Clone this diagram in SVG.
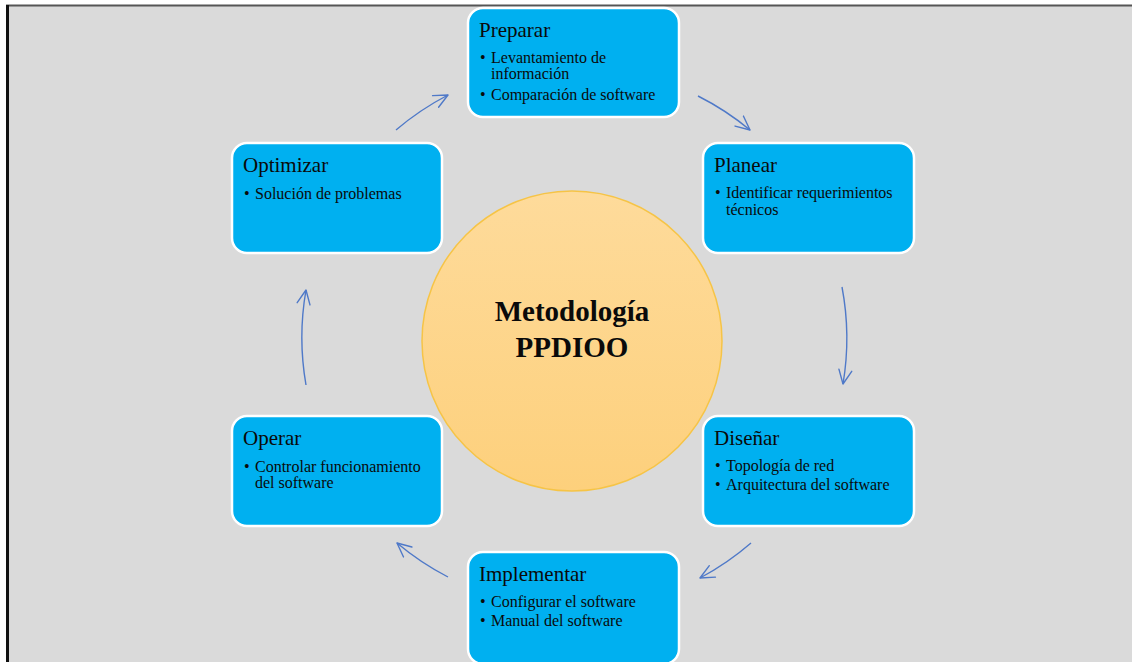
<svg xmlns="http://www.w3.org/2000/svg" width="1132" height="662" viewBox="0 0 1132 662">
  <defs>
    <linearGradient id="sunFill" x1="0" y1="0" x2="0" y2="1">
      <stop offset="0" stop-color="#fedb9b"/>
      <stop offset="1" stop-color="#fdd07c"/>
    </linearGradient>
    <marker id="openHead" viewBox="0 0 16 16" refX="15" refY="8" markerWidth="16" markerHeight="16" markerUnits="userSpaceOnUse" orient="auto">
      <path d="M1,1.5 L15,8 L1,14.5" fill="none" stroke="#4f79c8" stroke-width="1.4" stroke-linecap="round" stroke-linejoin="round"/>
    </marker>
    <style>
      .stage { fill: #00b0f0; stroke: #ffffff; stroke-width: 2.5; }
      .title { font-family: "Liberation Serif", "Times New Roman", serif; font-size: 21px; fill: #0a0a0a; }
      .item { font-family: "Liberation Serif", "Times New Roman", serif; font-size: 16px; fill: #0a0a0a; }
      .core { font-family: "Liberation Serif", "Times New Roman", serif; font-size: 29px; font-weight: bold; fill: #0a0a0a; text-anchor: middle; }
      .flow { fill: none; stroke: #4f79c8; stroke-width: 1.4; marker-end: url(#openHead); }
    </style>
  </defs>

  <!-- page background and frame -->
  <rect x="0" y="0" width="1132" height="662" fill="#ffffff"/>
  <rect x="8" y="6" width="1124" height="656" fill="#dadada"/>
  <line x1="6" y1="5.5" x2="1132" y2="5.5" stroke="#555555" stroke-width="2"/>
  <line x1="7.5" y1="5" x2="7.5" y2="662" stroke="#111111" stroke-width="3"/>

  <!-- central circle -->
  <g id="core">
    <circle cx="572" cy="341" r="150" fill="url(#sunFill)" stroke="#f6c446" stroke-width="1.5"/>
    <text class="core" x="572" y="321">Metodología</text>
    <text class="core" x="572" y="357">PPDIOO</text>
  </g>

  <!-- cycle connectors -->
  <g id="connectors">
    <path class="flow" d="M698,96 A275,275 0 0 1 750,130"/>
    <path class="flow" d="M842,287 A275,275 0 0 1 843,384"/>
    <path class="flow" d="M751,543 A275,275 0 0 1 700,578"/>
    <path class="flow" d="M448,577 A275,275 0 0 1 397,543"/>
    <path class="flow" d="M306,385 A275,275 0 0 1 306,290"/>
    <path class="flow" d="M396,130 A275,275 0 0 1 448,95"/>
  </g>

  <g id="preparar">
    <rect class="stage" x="468" y="8" width="211" height="109" rx="15"/>
    <text class="title" x="479" y="37">Preparar</text>
    <text class="item" x="480" y="63">•</text>
    <text class="item" x="491" y="63">Levantamiento de</text>
    <text class="item" x="491" y="79">información</text>
    <text class="item" x="480" y="100">•</text>
    <text class="item" x="491" y="100">Comparación de software</text>
  </g>

  <g id="planear">
    <rect class="stage" x="703" y="143" width="211" height="110" rx="15"/>
    <text class="title" x="714" y="172">Planear</text>
    <text class="item" x="715" y="198">•</text>
    <text class="item" x="726" y="198">Identificar requerimientos</text>
    <text class="item" x="726" y="215">técnicos</text>
  </g>

  <g id="disenar">
    <rect class="stage" x="703" y="416" width="211" height="110" rx="15"/>
    <text class="title" x="714" y="445">Diseñar</text>
    <text class="item" x="715" y="471">•</text>
    <text class="item" x="726" y="471">Topología de red</text>
    <text class="item" x="715" y="490">•</text>
    <text class="item" x="726" y="490">Arquitectura del software</text>
  </g>

  <g id="implementar">
    <rect class="stage" x="468" y="552" width="211" height="112" rx="15"/>
    <text class="title" x="479" y="581">Implementar</text>
    <text class="item" x="480" y="607">•</text>
    <text class="item" x="491" y="607">Configurar el software</text>
    <text class="item" x="480" y="626">•</text>
    <text class="item" x="491" y="626">Manual del software</text>
  </g>

  <g id="operar">
    <rect class="stage" x="232" y="416" width="210" height="110" rx="15"/>
    <text class="title" x="243" y="445">Operar</text>
    <text class="item" x="244" y="472">•</text>
    <text class="item" x="255" y="472">Controlar funcionamiento</text>
    <text class="item" x="255" y="488">del software</text>
  </g>

  <g id="optimizar">
    <rect class="stage" x="232" y="143" width="210" height="110" rx="15"/>
    <text class="title" x="243" y="172">Optimizar</text>
    <text class="item" x="244" y="199">•</text>
    <text class="item" x="255" y="199">Solución de problemas</text>
  </g>
</svg>
